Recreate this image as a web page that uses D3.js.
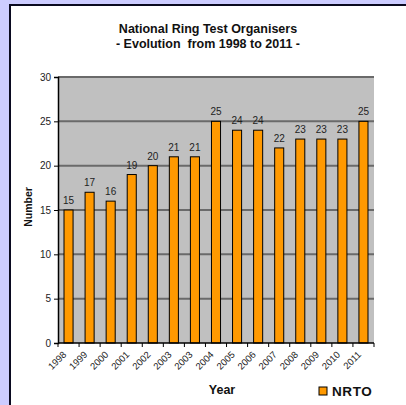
<!DOCTYPE html>
<html><head><meta charset="utf-8">
<script src="https://cdn.jsdelivr.net/npm/d3@7"></script>
<style>body{margin:0;background:#ccccff;}svg{display:block;font-family:"Liberation Sans",Arial,sans-serif;}</style>
</head><body>
<svg id="c" width="406" height="405"></svg>
<script>
const categories = ["1998","1999","2000","2001","2002","2003","2003","2004","2005","2006","2007","2008","2009","2010","2011"];
const values = [15,17,16,19,20,21,21,25,24,24,22,23,23,23,25];
const yTicks = [0,5,10,15,20,25,30];
const seriesName = "NRTO";

const svg = d3.select("#c");
svg.append("rect").attr("x",0).attr("y",0).attr("width",406).attr("height",405).attr("fill","#ccccff");
svg.append("rect").attr("x",10).attr("y",5).attr("width",410).attr("height",420).attr("fill","#fff").attr("stroke","#0a0a20").attr("stroke-width",2);

const L=58, R=374, T=77, B=343;
const idx = categories.map((d,i)=>i);
const x = d3.scaleBand().domain(idx).range([L,R]).paddingInner(0.57).paddingOuter(0.285);
const xb = d3.scaleBand().domain(idx).range([L,R]);
const y = d3.scaleLinear().domain([0,30]).range([B,T]);

svg.append("rect").attr("x",L).attr("y",T).attr("width",R-L).attr("height",B-T).attr("fill","#c0c0c0");
svg.append("g").selectAll("line").data(yTicks.filter(d=>d>0)).join("line")
  .attr("x1",L).attr("x2",R).attr("y1",d=>y(d)).attr("y2",d=>y(d))
  .attr("stroke","#6a6a6a").attr("stroke-width",2);

svg.append("g").selectAll("rect").data(values).join("rect")
  .attr("x",(d,i)=>x(i)).attr("width",x.bandwidth())
  .attr("y",d=>y(d)).attr("height",d=>B-y(d))
  .attr("fill","#ff9900").attr("stroke","#000").attr("stroke-width",1);

svg.append("g").selectAll("text").data(values).join("text")
  .attr("x",(d,i)=>x(i)+x.bandwidth()/2).attr("y",d=>y(d)-6)
  .attr("text-anchor","middle").attr("font-size",10).attr("fill","#222").text(d=>d);

// y axis
const ya = svg.append("g").attr("transform",`translate(${L},0)`)
  .call(d3.axisLeft(y).tickValues(yTicks).tickSize(4).tickPadding(3));
ya.select(".domain").attr("stroke","#000").attr("stroke-width",1.5);
ya.selectAll("line").attr("stroke","#000");
ya.selectAll("text").attr("font-size",10).attr("fill","#222").attr("font-family","Liberation Sans, Arial, sans-serif");

// x axis with ticks between categories
const xa = svg.append("g").attr("transform",`translate(0,${B})`);
xa.append("line").attr("x1",L).attr("x2",R).attr("stroke","#000").attr("stroke-width",1.5);
xa.selectAll("line.t").data(d3.range(categories.length+1)).join("line").attr("class","t")
  .attr("x1",i=>L+i*xb.bandwidth()).attr("x2",i=>L+i*xb.bandwidth()).attr("y1",0).attr("y2",4).attr("stroke","#000");
xa.selectAll("text").data(categories).join("text")
  .attr("transform",(d,i)=>`translate(${xb(i)+xb.bandwidth()/2-4},${10}) rotate(-45)`)
  .attr("text-anchor","end").attr("dy","0.35em").attr("font-size",9.5).attr("fill","#222").text(d=>d);

// titles
svg.append("text").attr("x",208).attr("y",33).attr("text-anchor","middle").attr("font-size",12.5).attr("font-weight","bold").attr("fill","#111").text("National Ring Test Organisers");
svg.append("text").attr("x",208).attr("y",48).attr("text-anchor","middle").attr("font-size",12.5).attr("font-weight","bold").attr("fill","#111").attr("xml:space","preserve").style("white-space","pre").text("- Evolution  from 1998 to 2011 -");
svg.append("text").attr("transform","translate(32,207) rotate(-90)").attr("text-anchor","middle").attr("font-size",10.5).attr("font-weight","bold").attr("fill","#111").text("Number");
svg.append("text").attr("x",222).attr("y",394).attr("text-anchor","middle").attr("font-size",12.5).attr("font-weight","bold").attr("fill","#111").text("Year");

// legend
svg.append("rect").attr("x",319).attr("y",387).attr("width",8).attr("height",8).attr("fill","#ff9900").attr("stroke","#000");
svg.append("text").attr("x",332).attr("y",396).attr("font-size",13.5).attr("font-weight","bold").attr("letter-spacing",0.6).attr("fill","#111").text(seriesName);
</script>
</body></html>
